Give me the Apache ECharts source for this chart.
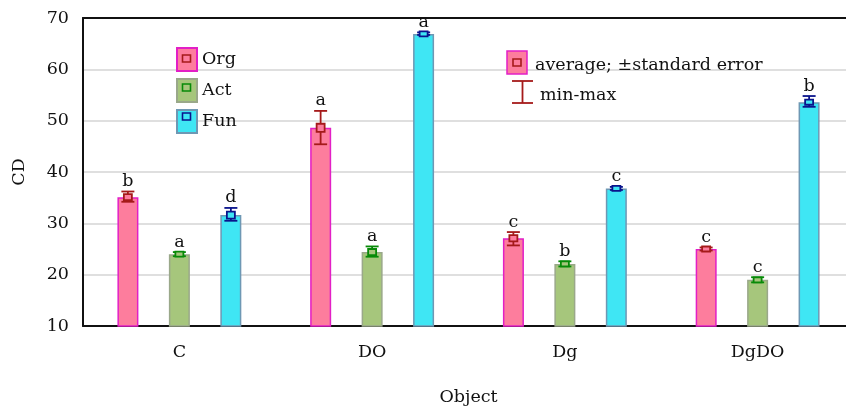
<!DOCTYPE html>
<html><head><meta charset="utf-8">
<script src="https://cdn.jsdelivr.net/npm/echarts@6/dist/echarts.min.js"></script>
<style>html,body{margin:0;padding:0;background:#fff}#c{width:846px;height:407px}</style>
</head><body><div id="c"></div>
<script>
const categories = ['C', 'DO', 'Dg', 'DgDO'];
const seriesNames = ['Org', 'Act', 'Fun'];
const orgMean = [35.1, 48.6, 27.1, 25.0];
const actMean = [24.0, 24.4, 22.1, 19.0];
const funMean = [31.6, 66.9, 36.8, 53.6];
const orgSE = [0.6, 0.8, 0.6, 0.3];
const actSE = [0.3, 0.6, 0.4, 0.4];
const funSE = [0.7, 0.3, 0.3, 0.5];
const orgMin = [34.2, 45.4, 25.7, 24.7];
const orgMax = [36.2, 51.9, 28.3, 25.3];
const actMin = [23.6, 23.5, 21.6, 18.5];
const actMax = [24.4, 25.5, 22.6, 19.5];
const funMin = [30.5, 66.7, 36.5, 52.7];
const funMax = [33.0, 67.2, 37.1, 54.8];
const orgLetters = ['b', 'a', 'c', 'c'];
const actLetters = ['a', 'a', 'b', 'c'];
const funLetters = ['d', 'a', 'c', 'b'];
const yTicks = [10, 20, 30, 40, 50, 60, 70];

const FONT = 'DejaVu Serif';
const FS = 17.5;
const means = [orgMean, actMean, funMean];
const ses = [orgSE, actSE, funSE];
const mins = [orgMin, actMin, funMin];
const maxs = [orgMax, actMax, funMax];
const letters = [orgLetters, actLetters, funLetters];
const fills = ['#fd7d9d', '#a6c67c', '#3fe6f4'];
const borders = ['#e21fc6', '#9aa88a', '#6e98b4'];
const marks = ['#a51a1a', '#088a08', '#0a148c'];
const BAR_W = 21, OFFSET = 51.5;

const chart = echarts.init(document.getElementById('c'));
const series = [];
seriesNames.forEach((name, i) => {
  series.push({
    name, type: 'bar', barWidth: BAR_W, barGap: '145%', clip: true,
    data: means[i],
    itemStyle: { color: fills[i], borderColor: borders[i], borderWidth: 1.5 },
    z: 2
  });
});
seriesNames.forEach((name, i) => {
  series.push({
    type: 'custom', name: name + '_err', z: 5, silent: true,
    data: categories.map((c, k) => [k, means[i][k], ses[i][k], mins[i][k], maxs[i][k], letters[i][k]]),
    encode: { x: 0, y: [1, 3, 4] },
    renderItem: function (params, api) {
      const k = api.value(0);
      const c = api.coord([k, api.value(1)]);
      const x = c[0] + (i - 1) * OFFSET;
      const yMean = c[1];
      const yLo = api.coord([k, api.value(3)])[1];
      const yHi = api.coord([k, api.value(4)])[1];
      const seT = api.coord([k, api.value(1) + api.value(2)])[1];
      const seB = api.coord([k, api.value(1) - api.value(2)])[1];
      const sh = Math.max(seB - seT, 5);
      const col = marks[i];
      const st = { stroke: col, lineWidth: 1.8, fill: null };
      return {
        type: 'group', children: [
          { type: 'line', shape: { x1: x, y1: yLo, x2: x, y2: yHi }, style: st },
          { type: 'line', shape: { x1: x - 6.5, y1: yLo, x2: x + 6.5, y2: yLo }, style: st },
          { type: 'line', shape: { x1: x - 6.5, y1: yHi, x2: x + 6.5, y2: yHi }, style: st },
          { type: 'rect', shape: { x: x - 4, y: yMean - sh / 2, width: 8, height: sh }, style: { stroke: col, lineWidth: 1.8, fill: fills[i] } },
          { type: 'text', style: { text: api.value(5), x: x, y: yHi - 1, align: 'center', verticalAlign: 'bottom', font: FS + 'px "' + FONT + '"', fill: '#111' } }
        ]
      };
    }
  });
});

const sq = (x, y, col) => ({ type: 'rect', shape: { x: x - 4, y: y - 3.5, width: 8, height: 7 }, style: { stroke: col, lineWidth: 1.6, fill: null }, z: 100 });

chart.setOption({
  animation: false,
  grid: { left: 83, top: 18, width: 771, height: 308, outerBoundsMode: 'none', containLabel: false },
  legend: {
    data: seriesNames, orient: 'vertical', left: 176, top: 47, icon: 'rect',
    itemWidth: 20, itemHeight: 23, itemGap: 6, padding: 0,
    textStyle: { fontFamily: FONT, fontSize: FS, color: '#111' }
  },
  xAxis: [{
    type: 'category', data: categories, position: 'bottom',
    name: 'Object', nameLocation: 'middle', nameGap: 62,
    nameTextStyle: { fontFamily: FONT, fontSize: FS, color: '#111' },
    axisLine: { lineStyle: { color: '#111', width: 2 } },
    axisTick: { alignWithLabel: true, inside: true, length: 5, lineStyle: { color: '#111', width: 1.5 } },
    axisLabel: { fontFamily: FONT, fontSize: FS, color: '#111', margin: 17 },
    splitLine: { show: false }
  }, {
    type: 'category', data: categories, position: 'top',
    axisLine: { lineStyle: { color: '#111', width: 2 } },
    axisTick: { alignWithLabel: true, inside: true, length: 5, lineStyle: { color: '#111', width: 1.5 } },
    axisLabel: { show: false }
  }],
  yAxis: {
    type: 'value', min: 10, max: 70, interval: 10,
    name: 'CD', nameLocation: 'middle', nameGap: 55, nameRotate: 90,
    nameTextStyle: { fontFamily: FONT, fontSize: FS, color: '#111' },
    axisLine: { show: true, lineStyle: { color: '#111', width: 2 } },
    axisTick: { show: false },
    axisLabel: { fontFamily: FONT, fontSize: FS, color: '#111', margin: 14, customValues: yTicks },
    splitLine: { lineStyle: { color: '#d4d4d4', width: 1.5 } }
  },
  series,
  graphic: [
    sq(186.5, 58.5, marks[0]), sq(186.5, 87.5, marks[1]), sq(186.5, 116.5, marks[2]),
    { type: 'rect', shape: { x: 507, y: 51, width: 20, height: 23 }, style: { fill: fills[0], stroke: borders[0], lineWidth: 1.5 }, z: 99 },
    sq(517, 62.5, marks[0]),
    { type: 'text', style: { text: 'average; ±standard error', x: 535, y: 65, verticalAlign: 'middle', font: FS + 'px "' + FONT + '"', fill: '#111' }, z: 100 },
    { type: 'line', shape: { x1: 522.5, y1: 81, x2: 522.5, y2: 103 }, style: { stroke: marks[0], lineWidth: 1.8 }, z: 100 },
    { type: 'line', shape: { x1: 512, y1: 81, x2: 533, y2: 81 }, style: { stroke: marks[0], lineWidth: 1.8 }, z: 100 },
    { type: 'line', shape: { x1: 512, y1: 103, x2: 533, y2: 103 }, style: { stroke: marks[0], lineWidth: 1.8 }, z: 100 },
    { type: 'text', style: { text: 'min-max', x: 540, y: 95, verticalAlign: 'middle', font: FS + 'px "' + FONT + '"', fill: '#111' }, z: 100 }
  ]
});
</script></body></html>
